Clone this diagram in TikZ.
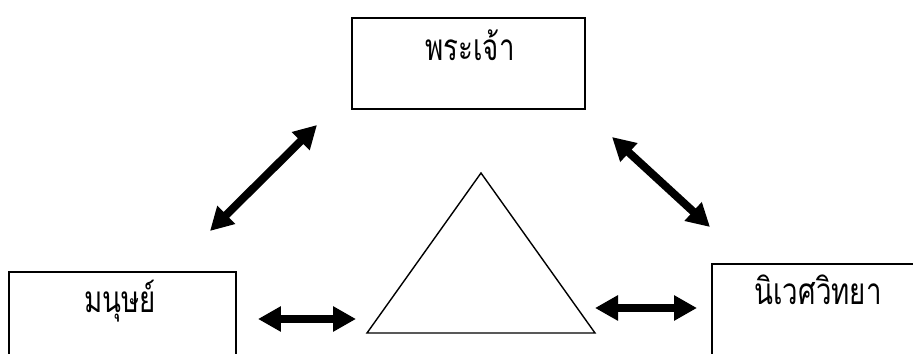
\documentclass[tikz,border=0pt]{standalone}
\usepackage{fontspec}
\usepackage{tikz}
\usetikzlibrary{arrows.meta, positioning}
\newfontfamily\thaifont[Script=Thai, FakeStretch=0.75]{Loma}
\newcommand{\tw}{\thaifont\fontsize{21}{25}\selectfont}

\begin{document}
\begin{tikzpicture}[x=0.02cm, y=-0.02cm,
  basic/.style = {draw, rectangle, inner sep=0pt},
  box/.style   = {basic, line width=0.7pt},
  word/.style  = {font=\tw, anchor=base, inner sep=0pt},
  both/.style  = {{Triangle[length=0.46cm,width=0.48cm]}-{Triangle[length=0.46cm,width=0.48cm]}, line width=0.16cm}]

\useasboundingbox (0,0) rectangle (913,354);
\clip (0,0) rectangle (913,354);

% the three boxes, the lower two run out of the picture
\node[box, minimum width=4.66cm, minimum height=1.82cm] (god) at (468.5,63.5) {};
\node[box, minimum width=4.54cm, minimum height=3cm] (man) at (122.5,347) {};
\node[box, minimum width=4.4cm, minimum height=3cm] (eco) at (822,339) {};

% texts near the top of each box
\node[word] (tgod) at (470,61) {พระเจ้า};
\node[word] (tman) at (120,313) {มนุษย์};
\node[word] (teco) at (818,305) {นิเวศวิทยา};

% triangle in the middle
\coordinate (apex) at (481,173);
\coordinate (tl) at (367,333);
\coordinate (tr) at (595,333);
\draw[line width=0.8pt] (apex) -- (tl) -- (tr) -- cycle;

%------------------------------- two-way arrows -------------------------------
\coordinate (a1) at (317,125);
\coordinate (a2) at (210,231);
\coordinate (b1) at (612,137);
\coordinate (b2) at (710,227);
\coordinate (c1) at (258,319);
\coordinate (c2) at (356,319);
\coordinate (d1) at (595,308);
\coordinate (d2) at (697,308);

\foreach \s/\e in {a1/a2, b1/b2, c1/c2, d1/d2}
  \draw[both] (\s) -- (\e);

\end{tikzpicture}
\end{document}
